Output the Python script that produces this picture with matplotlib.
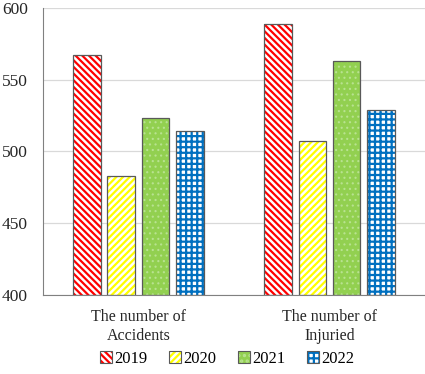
import numpy as np
import matplotlib
matplotlib.use("Agg")
import matplotlib.pyplot as plt

plt.rcParams['font.family'] = ['Liberation Serif', 'DejaVu Serif']

categories = ["The number of\nAccidents", "The number of\nInjuried"]
years = ["2019", "2020", "2021", "2022"]
v2019 = [567, 589]
v2020 = [483, 507]
v2021 = [523, 563]
v2022 = [514, 529]
values = [v2019, v2020, v2021, v2022]

# face, hatch colour, hatch pattern, hatch width
styles = [
    ("white", "#FF0000", "\\\\\\\\\\", 1.6),
    ("white", "#FFFF00", "/////", 1.6),
    ("#92D050", "#B8E290", "...", 0.8),
    ("white", "#0070C0", "+++", 1.6),
]

fig = plt.figure(figsize=(4.25, 3.74), dpi=100)
ax = fig.add_axes([0.101, 0.211, 0.899, 0.768])

x = np.arange(len(categories))
width = 0.144
pitch = 0.18
handles = []
for i, (vals, (fc, hc, hatch, hw)) in enumerate(zip(values, styles)):
    pos = x + (i - 1.5) * pitch
    plt.rcParams['hatch.linewidth'] = hw
    ax.bar(pos, np.array(vals) - 400, width, bottom=400, color=fc,
           edgecolor=hc, hatch=hatch, linewidth=0, zorder=2)
    ax.bar(pos, np.array(vals) - 400, width, bottom=400, fill=False,
           edgecolor="#595959", linewidth=0.9, zorder=3)
    h1 = plt.Rectangle((0, 0), 1, 1, facecolor=fc, edgecolor=hc, hatch=hatch,
                       linewidth=0)
    h2 = plt.Rectangle((0, 0), 1, 1, fill=False, edgecolor="#595959",
                       linewidth=0.8)
    handles.append((h1, h2))

ax.set_ylim(400, 600)
ax.set_xlim(-0.5, 1.5)
ax.set_yticks([400, 450, 500, 550, 600])
ax.set_xticks(x)
ax.set_xticklabels(categories, fontsize=11.5, linespacing=1.25)
ax.tick_params(axis='both', length=0, colors="#262626")
ax.tick_params(axis='y', labelsize=12.5, pad=11)
ax.tick_params(axis='x', pad=10)
ax.grid(axis='y', color="#D9D9D9", linewidth=0.9, zorder=0)
ax.set_axisbelow(True)
for s in ['top', 'right']:
    ax.spines[s].set_visible(False)
ax.spines['left'].set_color("#808080")
ax.spines['bottom'].set_color("#808080")

fig.legend(handles, years, loc='center', bbox_to_anchor=(0.535, 0.04),
           ncol=4, frameon=False, fontsize=12, handlelength=0.7,
           handleheight=0.7, handletextpad=0.15, columnspacing=1.3)

fig.savefig("out.png", dpi=100)
